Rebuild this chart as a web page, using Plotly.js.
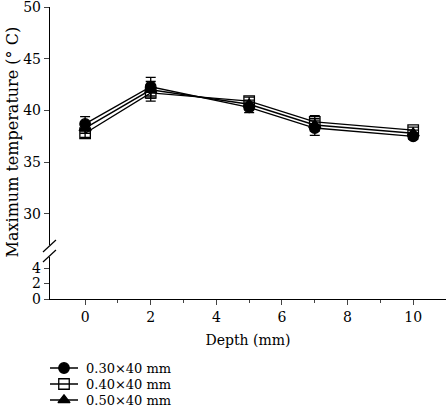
<!DOCTYPE html>
<html>
<head>
<meta charset="utf-8">
<script src="https://cdn.plot.ly/plotly-3.0.1.min.js"></script>
<style>html,body{margin:0;padding:0;background:#fff;}#chart{width:446px;height:407px;}</style>
</head>
<body>
<div id="chart"></div>
<script>
const depth = [0, 2, 5, 7, 10];
const seriesNames = ['0.30×40 mm', '0.40×40 mm', '0.50×40 mm'];
const temp030 = [38.7, 42.3, 40.3, 38.3, 37.5];
const err030 = [0.7, 0.9, 0.5, 0.7, 0.3];
const temp040 = [37.8, 41.7, 40.9, 38.9, 38.1];
const err040 = [0.4, 0.8, 0.4, 0.6, 0.3];
const temp050 = [38.3, 42.0, 40.6, 38.6, 37.8];
const err050 = [0.5, 0.8, 0.4, 0.6, 0.3];
const upperTicks = [30, 35, 40, 45, 50];
const lowerTicks = [0, 2, 4];
const xTicks = [0, 2, 4, 6, 8, 10];
const xMinorTicks = [1, 3, 5, 7, 9];

const fontFam = '"DejaVu Serif", "Liberation Serif", serif';
const symbols = ['circle', 'square-open', 'triangle-up'];
const temps = [temp030, temp040, temp050];
const errs = [err030, err040, err050];

const traces = temps.map((t, i) => ({
  x: depth, y: t, name: seriesNames[i], type: 'scatter', mode: 'lines+markers',
  line: {color: '#000', width: 1.4},
  marker: {symbol: symbols[i], size: 10.5, color: '#000', line: {color: '#000', width: 1.3}},
  error_y: {type: 'data', array: errs[i], visible: true, color: '#000', thickness: 1.3, width: 5},
  xaxis: 'x', yaxis: 'y', showlegend: false
}));
// dummy trace so the lower broken-axis segment renders
traces.push({x: [depth[0]], y: [null], xaxis: 'x', yaxis: 'y2', showlegend: false, hoverinfo: 'skip', mode: 'markers'});

// hand-built legend (on its own hidden axes, pixel-like units)
const legRows = [39, 23, 7];
const legAnn = [];
seriesNames.forEach((n, i) => {
  traces.push({x: [0, 28], y: [legRows[i], legRows[i]], xaxis: 'x2', yaxis: 'y3', mode: 'lines', line: {color: '#000', width: 1.4}, showlegend: false, hoverinfo: 'skip'});
  traces.push({x: [14], y: [legRows[i]], xaxis: 'x2', yaxis: 'y3', mode: 'markers', marker: {symbol: symbols[i], size: 10.5, color: '#000', line: {color: '#000', width: 1.3}}, showlegend: false, hoverinfo: 'skip'});
  legAnn.push({text: n, xref: 'x2', yref: 'y3', x: 34, y: legRows[i], xanchor: 'left', yanchor: 'middle', showarrow: false, font: {family: fontFam, size: 13}});
});

const layout = {
  width: 446, height: 407,
  margin: {l: 50, r: 0, t: 7, b: 0, autoexpand: false},
  paper_bgcolor: '#fff', plot_bgcolor: 'rgba(0,0,0,0)',
  font: {family: fontFam, size: 14, color: '#000'},
  showlegend: false,
  xaxis: {
    anchor: 'y2', range: [-1.07, 11.0], tickvals: xTicks, ticks: 'outside', ticklen: 5, tickwidth: 1,
    showline: true, linecolor: '#000', linewidth: 1.2, showgrid: false, zeroline: false,
    minor: {tickvals: xMinorTicks, ticks: 'outside', ticklen: 3, tickwidth: 1, showgrid: false},
    title: {text: 'Depth (mm)', font: {family: fontFam, size: 14}, standoff: 11},
    tickfont: {family: fontFam, size: 14}, automargin: false
  },
  yaxis: {
    domain: [0.405, 1], range: [27.0, 50.001], tickvals: upperTicks, ticks: 'outside', ticklen: 5, tickwidth: 1,
    showline: true, linecolor: '#000', linewidth: 1.2, showgrid: false, zeroline: false,
    tickfont: {family: fontFam, size: 14}, automargin: false, ticklabeloverflow: 'allow'
  },
  yaxis2: {
    domain: [0.27, 0.375], range: [0, 5.45], tickvals: lowerTicks, ticks: 'outside', ticklen: 5, tickwidth: 1,
    showline: true, linecolor: '#000', linewidth: 1.2, showgrid: false, zeroline: false,
    tickfont: {family: fontFam, size: 14}, automargin: false
  },
  xaxis2: {domain: [0, 0.3], range: [0, 118.8], visible: false, anchor: 'y3', fixedrange: true},
  yaxis3: {domain: [0, 0.13], range: [0, 52], visible: false, anchor: 'x2', fixedrange: true},
  shapes: [
    {type: 'line', xref: 'paper', yref: 'paper', x0: -0.0177, y0: 0.3875, x1: 0.015, y1: 0.4175, line: {color: '#000', width: 1.2}},
    {type: 'line', xref: 'paper', yref: 'paper', x0: -0.0177, y0: 0.3625, x1: 0.015, y1: 0.3925, line: {color: '#000', width: 1.2}}
  ],
  annotations: [
    {text: 'Maximum temperature (° C)', xref: 'paper', yref: 'paper', x: -0.095, y: 0.6625, xanchor: 'center', yanchor: 'middle', textangle: -90, showarrow: false, font: {family: fontFam, size: 16}}
  ].concat(legAnn)
};

Plotly.newPlot('chart', traces, layout, {displayModeBar: false, staticPlot: true});
</script>
</body>
</html>
